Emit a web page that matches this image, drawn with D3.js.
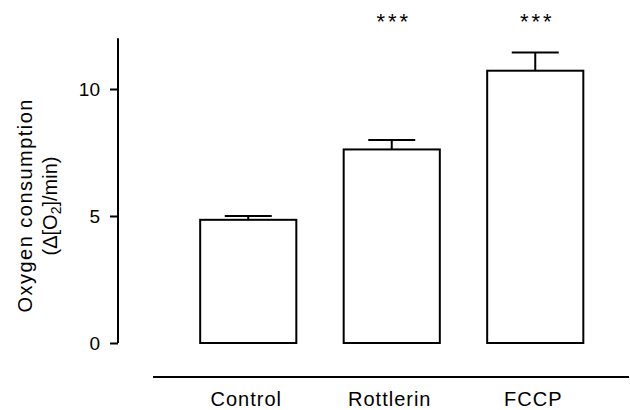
<!DOCTYPE html>
<html><head><meta charset="utf-8">
<script src="https://cdn.jsdelivr.net/npm/d3@7"></script>
<style>body{margin:0;background:#fff}svg{display:block}text{font-family:"Liberation Sans",Arial,sans-serif}</style>
</head><body><svg id="c" width="630" height="410"></svg>
<script>
const categories = ["Control", "Rottlerin", "FCCP"];
const means = [4.85, 7.62, 10.72];
const sems = [0.15, 0.37, 0.72];
const significance = ["", "***", "***"];
const yTicks = [0, 5, 10];

const svg = d3.select("#c");
const y = d3.scaleLinear().domain([0, 12]).range([343, 38.2]);
const x = d3.scaleBand().domain(categories).range([176.5, 607]).paddingInner(0.33).paddingOuter(0.165);

// Y axis
const yAxis = d3.axisLeft(y).tickValues(yTicks).tickSize(8).tickSizeOuter(0).tickPadding(10);
const gy = svg.append("g").attr("transform", "translate(118,0)").call(yAxis);
gy.select(".domain").attr("stroke", "#000").attr("stroke-width", 2).attr("d", `M0,${y(12)}V${y(0)}`);
gy.selectAll(".tick line").attr("stroke-width", 2);
gy.selectAll(".tick text").attr("font-size", 19).attr("fill", "#000").attr("font-family", "'Liberation Sans',Arial,sans-serif");

// Y label
const yl = svg.append("text").attr("transform", "translate(0,206) rotate(-90)").attr("text-anchor", "middle").attr("font-size", 20).attr("fill", "#000");
yl.append("tspan").attr("x", 0).attr("y", 32).attr("textLength", 213).attr("lengthAdjust", "spacing").text("Oxygen consumption");
const t2 = yl.append("tspan").attr("x", 0).attr("y", 57);
t2.append("tspan").text("(Δ[O");
t2.append("tspan").attr("font-size", 14).attr("dy", 4).text("2");
t2.append("tspan").attr("dy", -4).text("]/min)");

// X axis line and labels
svg.append("line").attr("x1", 153).attr("x2", 629).attr("y1", 377).attr("y2", 377).attr("stroke", "#000").attr("stroke-width", 2);
const gx = svg.append("g").attr("transform", "translate(-2,377)").call(d3.axisBottom(x).tickSize(0).tickPadding(15));
gx.select(".domain").remove();
gx.selectAll(".tick text").attr("font-size", 20).attr("letter-spacing", 1).attr("fill", "#000").attr("font-family", "'Liberation Sans',Arial,sans-serif");

const data = categories.map((c, i) => ({c, m: means[i], e: sems[i], s: significance[i]}));

// Error bars (behind bars)
const cap = 47;
svg.selectAll(".err").data(data).join("line").attr("class", "err")
  .attr("x1", d => x(d.c) + x.bandwidth() / 2).attr("x2", d => x(d.c) + x.bandwidth() / 2)
  .attr("y1", d => y(d.m)).attr("y2", d => y(d.m + d.e)).attr("stroke", "#000").attr("stroke-width", 2);
svg.selectAll(".cap").data(data).join("line").attr("class", "cap")
  .attr("x1", d => x(d.c) + x.bandwidth() / 2 - cap / 2).attr("x2", d => x(d.c) + x.bandwidth() / 2 + cap / 2)
  .attr("y1", d => y(d.m + d.e)).attr("y2", d => y(d.m + d.e)).attr("stroke", "#000").attr("stroke-width", 2);

// Bars
svg.selectAll(".bar").data(data).join("rect").attr("class", "bar")
  .attr("x", d => x(d.c)).attr("width", x.bandwidth())
  .attr("y", d => y(d.m)).attr("height", d => y(0) - y(d.m))
  .attr("fill", "#fff").attr("stroke", "#000").attr("stroke-width", 2);

// Significance stars
svg.selectAll(".sig").data(data).join("text").attr("class", "sig")
  .attr("x", d => x(d.c) + x.bandwidth() / 2 + 2).attr("y", 29)
  .attr("text-anchor", "middle").attr("font-size", 22).attr("letter-spacing", 3).attr("fill", "#000")
  .text(d => d.s);
</script></body></html>
